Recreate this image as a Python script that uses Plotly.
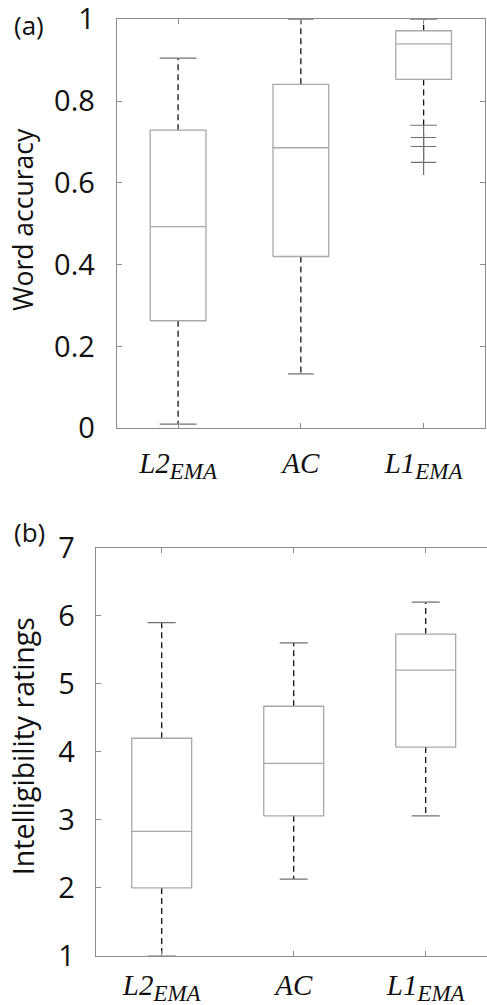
import plotly.graph_objects as go

# ---------------- data ----------------
categories = ["L2_EMA", "AC", "L1_EMA"]
SUB = '<sub><span style="font-size:23px">{}</span></sub>'
tick_text = ["<i>L2" + SUB.format("EMA") + "</i>", "<i>AC</i>", "<i>L1" + SUB.format("EMA") + "</i>"]

# (a) Word accuracy
acc_lower = [0.01, 0.133, 0.741]
acc_q1 = [0.263, 0.420, 0.853]
acc_median = [0.493, 0.686, 0.940]
acc_q3 = [0.729, 0.841, 0.972]
acc_upper = [0.905, 1.0, 1.0]
acc_outlier_cat = [3, 3, 3]
acc_outlier_val = [0.711, 0.689, 0.650]

# (b) Intelligibility ratings
int_lower = [1.0, 2.13, 3.06]
int_q1 = [2.0, 3.06, 4.07]
int_median = [2.83, 3.83, 5.20]
int_q3 = [4.20, 4.67, 5.73]
int_upper = [5.90, 5.60, 6.20]

# ---------------- style ----------------
BOX_HALF = 0.227
CAP_HALF_A = [0.15, 0.105, 0.108]
CAP_HALF_B = [0.106, 0.106, 0.106]
BOX_COLOR = "#a8a8a8"
CAP_COLOR = "#707070"
WHISK_COLOR = "#111111"
FRAME_COLOR = "#8c8c8c"
SANS = "Open Sans, Noto Sans, sans-serif"
TICK_FONT = dict(family=SANS, size=29, color="#111111")
CAT_FONT = dict(family="Liberation Serif, DejaVu Serif, serif", size=29, color="#111111")

fig = go.Figure()


def add_boxes(lower, q1, med, q3, upper, cap_half, xa, ya):
    bx, by, wx, wy, cx, cy = [], [], [], [], [], []
    for i in range(len(q1)):
        x = i + 1
        bx += [x - BOX_HALF, x + BOX_HALF, x + BOX_HALF, x - BOX_HALF, x - BOX_HALF, None,
               x - BOX_HALF, x + BOX_HALF, None]
        by += [q1[i], q1[i], q3[i], q3[i], q1[i], None, med[i], med[i], None]
        wx += [x, x, None, x, x, None]
        wy += [q3[i], upper[i], None, q1[i], lower[i], None]
        ch = cap_half[i]
        cx += [x - ch, x + ch, None, x - ch, x + ch, None]
        cy += [upper[i], upper[i], None, lower[i], lower[i], None]
    fig.add_trace(go.Scatter(x=wx, y=wy, mode="lines", xaxis=xa, yaxis=ya,
                             line=dict(color=WHISK_COLOR, width=1.3, dash="6px,4px"),
                             hoverinfo="skip", showlegend=False))
    fig.add_trace(go.Scatter(x=cx, y=cy, mode="lines", xaxis=xa, yaxis=ya,
                             line=dict(color=CAP_COLOR, width=1.2),
                             hoverinfo="skip", showlegend=False))
    fig.add_trace(go.Scatter(x=bx, y=by, mode="lines", xaxis=xa, yaxis=ya,
                             line=dict(color=BOX_COLOR, width=1.3),
                             hoverinfo="skip", showlegend=False))


add_boxes(acc_lower, acc_q1, acc_median, acc_q3, acc_upper, CAP_HALF_A, "x", "y")
fig.add_trace(go.Scatter(x=acc_outlier_cat, y=acc_outlier_val, mode="markers",
                         xaxis="x", yaxis="y",
                         marker=dict(symbol="cross-thin", size=18,
                                     line=dict(color=CAP_COLOR, width=1.2)),
                         hoverinfo="skip", showlegend=False))
add_boxes(int_lower, int_q1, int_median, int_q3, int_upper, CAP_HALF_B, "x2", "y2")

W, H = 487, 1005
axis_common = dict(showgrid=False, zeroline=False, showline=True, linecolor=FRAME_COLOR,
                   linewidth=1, ticks="inside", ticklen=5, tickcolor=FRAME_COLOR,
                   automargin=False, ticklabeloverflow="allow")

fig.update_layout(
    width=W, height=H,
    margin=dict(l=0, r=0, t=0, b=0, pad=0, autoexpand=False),
    paper_bgcolor="white", plot_bgcolor="white",
    xaxis=dict(domain=[116.7 / W, 485 / W], range=[0.5, 3.5], anchor="y",
               tickvals=[1, 2, 3], ticktext=tick_text, tickfont=CAT_FONT,
               mirror="ticks", ticklabelstandoff=9, **axis_common),
    yaxis=dict(domain=[1 - 428.3 / H, 1 - 19.3 / H], range=[0, 1], anchor="x",
               tickvals=[0, 0.2, 0.4, 0.6, 0.8, 1],
               ticktext=["0", "0.2", "0.4", "0.6", "0.8", "1"],
               tickfont=TICK_FONT, mirror="ticks", ticklabelstandoff=15,
               **axis_common),
    xaxis2=dict(domain=[95.7 / W, 1.0], range=[0.5, 3.5 - (491.7 - 487) / 132],
                anchor="y2", tickvals=[1, 2, 3], ticktext=tick_text, tickfont=CAT_FONT,
                mirror="ticks", ticklabelstandoff=3, **axis_common),
    yaxis2=dict(domain=[1 - 956 / H, 1 - 547.7 / H], range=[1, 7], anchor="x2",
                tickvals=[1, 2, 3, 4, 5, 6, 7], tickfont=TICK_FONT, mirror=False,
                ticklabelstandoff=14, **axis_common),
    annotations=[
        dict(text="Word accuracy", x=23 / W, y=1 - 220 / H, xref="paper", yref="paper",
             xanchor="center", yanchor="middle", textangle=-90, showarrow=False,
             font=dict(family=SANS, size=26.5, color="#111111")),
        dict(text="Intelligibility ratings", x=22.5 / W, y=1 - 746.7 / H,
             xref="paper", yref="paper", xanchor="center", yanchor="middle",
             textangle=-90, showarrow=False,
             font=dict(family=SANS, size=28.5, color="#111111")),
        dict(text="(a)", x=12 / W, y=1 - 25 / H, xref="paper", yref="paper",
             xanchor="left", yanchor="middle", showarrow=False,
             font=dict(family=SANS, size=26, color="#111111")),
        dict(text="(b)", x=12 / W, y=1 - 532 / H, xref="paper", yref="paper",
             xanchor="left", yanchor="middle", showarrow=False,
             font=dict(family=SANS, size=26, color="#111111")),
    ],
)

fig.write_html("out.html", config={"displayModeBar": False},
               post_script="document.body.style.margin='0';")
